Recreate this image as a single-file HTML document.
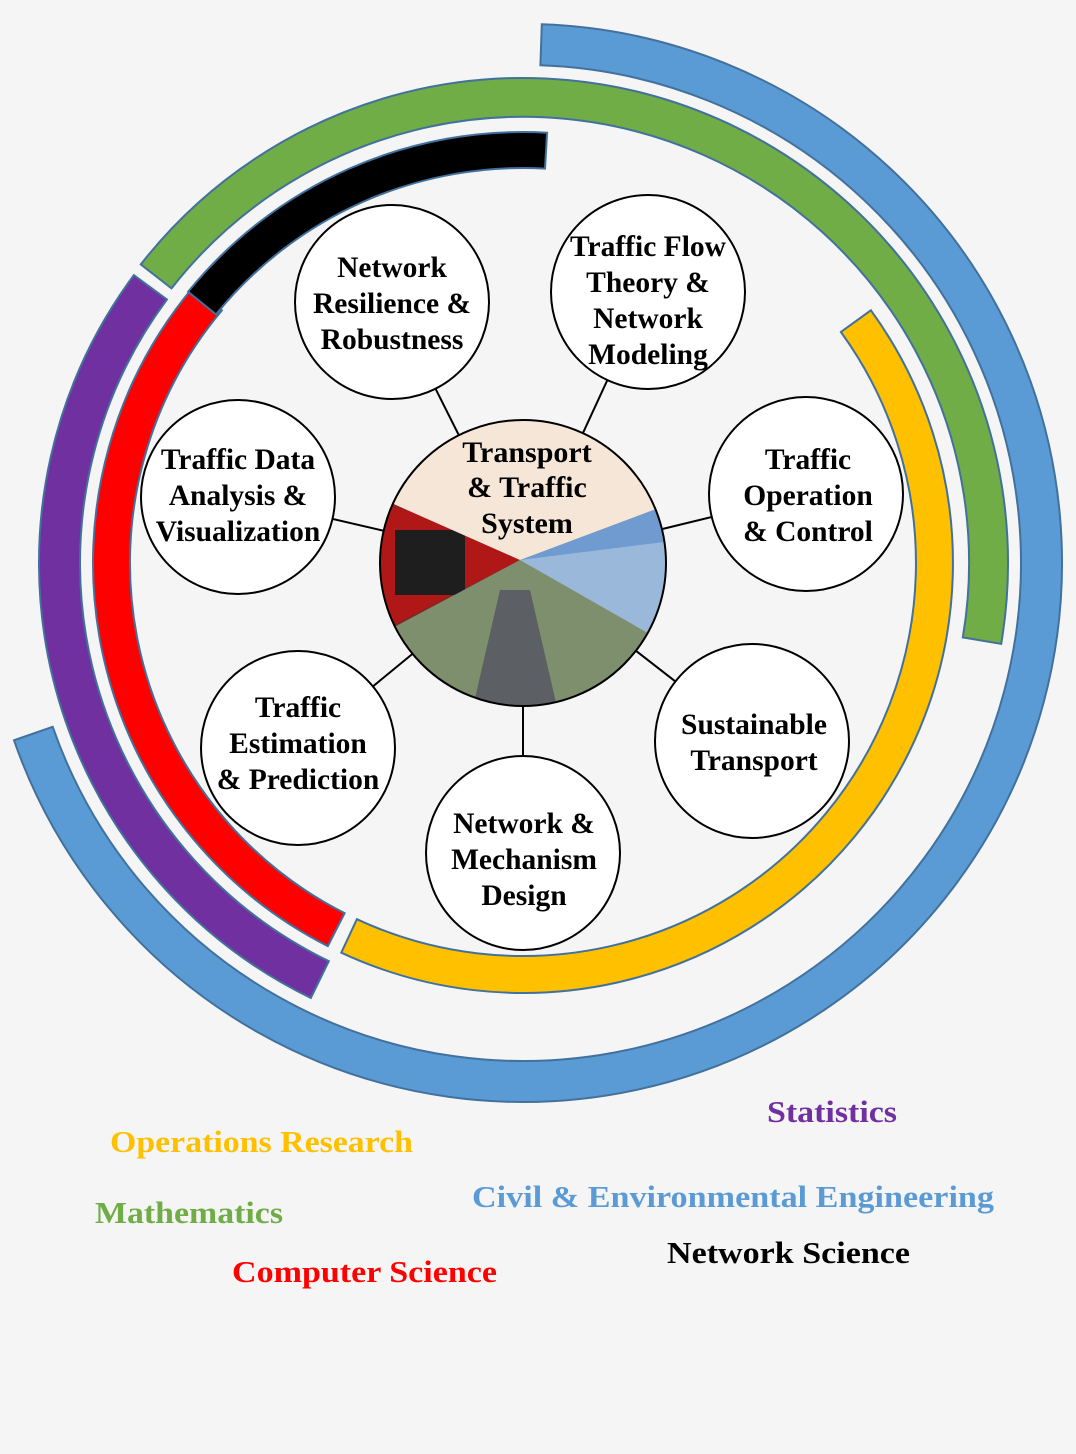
<!DOCTYPE html>
<html><head><meta charset="utf-8"><style>
html,body{margin:0;padding:0;background:#f5f5f5;}
svg{display:block}
text{font-family:"Liberation Serif",serif;font-weight:bold;}
</style></head><body>
<svg id="s" width="1076" height="1454" viewBox="0 0 1076 1454" xmlns="http://www.w3.org/2000/svg">
<rect width="1076" height="1454" fill="#f5f5f5"/>
<g id="arcs"></g>
<defs><clipPath id="cc"><circle cx="523" cy="563" r="143"/></clipPath></defs>
<g stroke="#000" stroke-width="2">
<line x1="523" y1="563" x2="392" y2="302"/>
<line x1="523" y1="563" x2="648" y2="292"/>
<line x1="523" y1="563" x2="806" y2="494"/>
<line x1="523" y1="563" x2="752" y2="741"/>
<line x1="523" y1="563" x2="523" y2="853"/>
<line x1="523" y1="563" x2="298" y2="748"/>
<line x1="523" y1="563" x2="238" y2="497"/>
</g>
<g clip-path="url(#cc)">
<rect x="370" y="410" width="310" height="310" fill="#7a8a7e"/>
<polygon points="520,560 370,640 370,420 410,420" fill="#7a2a22"/>
<polygon points="520,560 372,636 372,500 440,520" fill="#b01818"/>
<rect x="395" y="530" width="70" height="65" fill="#1e1e1e"/>
<polygon points="520,560 680,500 680,645" fill="#6f9bd0"/>
<polygon points="520,560 680,540 680,645 640,640" fill="#9ab8da"/>
<polygon points="370,640 520,560 660,640 660,720 370,720" fill="#7d8f6c"/>
<polygon points="470,720 500,590 530,590 560,720" fill="#5c6064"/>
<polygon points="380,420 680,420 680,500 520,560 380,498" fill="#f6e6d8"/>
</g>
<circle cx="523" cy="563" r="143" fill="none" stroke="#000" stroke-width="2"/>
<g font-size="30" text-anchor="middle" fill="#000">
<text x="527" y="462">Transport</text>
<text x="527" y="497">&amp; Traffic</text>
<text x="527" y="533">System</text>
</g>
<g fill="#fff" stroke="#000" stroke-width="2">
<circle cx="392" cy="302" r="97"/>
<circle cx="648" cy="292" r="97"/>
<circle cx="806" cy="494" r="97"/>
<circle cx="752" cy="741" r="97"/>
<circle cx="523" cy="853" r="97"/>
<circle cx="298" cy="748" r="97"/>
<circle cx="238" cy="497" r="97"/>
</g>
<g font-size="29.5" text-anchor="middle" fill="#000">
<text x="392" y="277">Network</text><text x="392" y="313">Resilience &amp;</text><text x="392" y="349">Robustness</text>
<text x="648" y="256">Traffic Flow</text><text x="648" y="292">Theory &amp;</text><text x="648" y="328">Network</text><text x="648" y="364">Modeling</text>
<text x="808" y="469">Traffic</text><text x="808" y="505">Operation</text><text x="808" y="541">&amp; Control</text>
<text x="754" y="734">Sustainable</text><text x="754" y="770">Transport</text>
<text x="524" y="833">Network &amp;</text><text x="524" y="869">Mechanism</text><text x="524" y="905">Design</text>
<text x="298" y="717">Traffic</text><text x="298" y="753">Estimation</text><text x="298" y="789">&amp; Prediction</text>
<text x="238" y="469">Traffic Data</text><text x="238" y="505">Analysis &amp;</text><text x="238" y="541">Visualization</text>
</g>
<g font-size="31">
<text x="767" y="1122" fill="#7030A0" textLength="130" lengthAdjust="spacingAndGlyphs">Statistics</text>
<text x="110" y="1152" fill="#FFC000" textLength="303" lengthAdjust="spacingAndGlyphs">Operations Research</text>
<text x="472" y="1207" fill="#5B9BD5" textLength="522" lengthAdjust="spacingAndGlyphs">Civil &amp; Environmental Engineering</text>
<text x="95" y="1223" fill="#70AD47" textLength="188" lengthAdjust="spacingAndGlyphs">Mathematics</text>
<text x="667" y="1263" fill="#000" textLength="243" lengthAdjust="spacingAndGlyphs">Network Science</text>
<text x="232" y="1282" fill="#FF0000" textLength="265" lengthAdjust="spacingAndGlyphs">Computer Science</text>
</g>
</svg>
<script>
(function(){
var cx=523,cy=563;
function P(r,a){a=a*Math.PI/180;return (cx+r*Math.cos(a)).toFixed(1)+","+(cy+r*Math.sin(a)).toFixed(1);}
function arc(r1,r2,a1,a2,col){
 var large=(a2-a1)>180?1:0;
 var d="M"+P(r2,a1)+" A"+r2+","+r2+" 0 "+large+" 1 "+P(r2,a2)+" L"+P(r1,a2)+" A"+r1+","+r1+" 0 "+large+" 0 "+P(r1,a1)+" Z";
 return '<path d="'+d+'" fill="'+col+'" stroke="#41719C" stroke-width="2"/>';
}
var h="";
h+=arc(498,539,-88,160.8,"#5B9BD5");
h+=arc(446,485,-142,9.6,"#70AD47");
h+=arc(443,484,116,216.5,"#7030A0");
h+=arc(393,430,117,220,"#FF0000");
h+=arc(393,430,-36,115,"#FFC000");
h+=arc(395,431,-141,-86.8,"#000000");
document.getElementById("arcs").innerHTML=h;
})();
</script>
</body></html>
